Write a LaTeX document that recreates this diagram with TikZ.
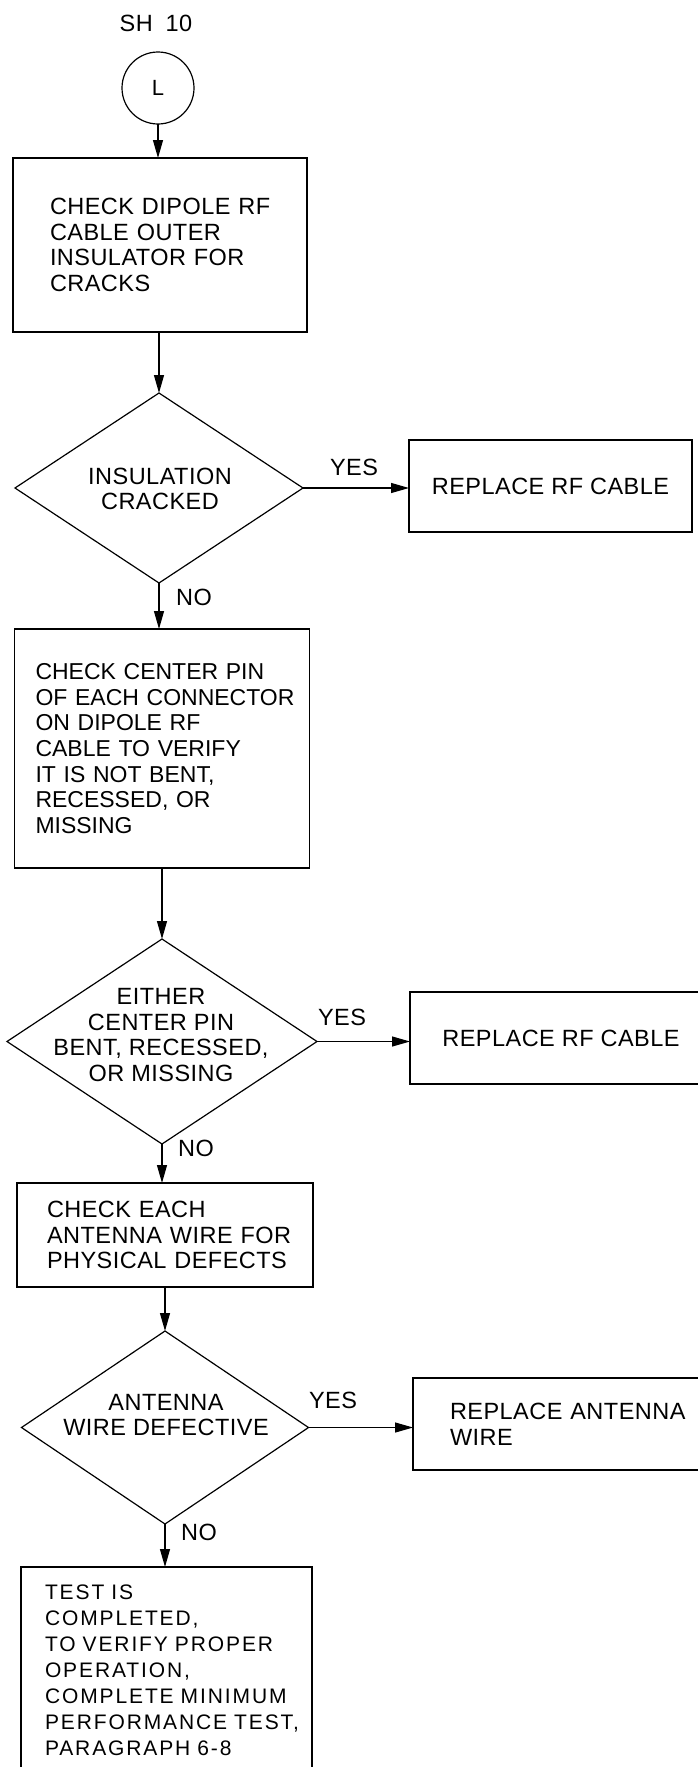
\documentclass[tikz,border=0pt]{standalone}
\usepackage{fontspec}
\setmainfont{Liberation Sans}[LetterSpace=2]
\newfontfamily\lastfont{Liberation Sans}[LetterSpace=9]
\usetikzlibrary{shapes.geometric,arrows.meta}
\begin{document}
\begin{tikzpicture}[x=1pt,y=-1pt,
  every node/.style={inner sep=0pt, outer sep=0pt},
  txt/.style={font=\fontsize{23.5}{25.7}\selectfont},
  procbox/.style={draw, line width=1.2pt, rectangle, align=left, txt},
  decbox/.style={draw, line width=1.2pt, diamond},
  dectext/.style={align=center, txt},
  lbl/.style={txt},
  flow/.style={draw, line width=1.2pt, -{Triangle[length=18pt,width=10pt]}},
]
\useasboundingbox[fill=white] (0,0) rectangle (698,1767);

\node[lbl] (sh) at (156,23) {SH\hspace{0.55em}10};
\node[draw, circle, line width=1.2pt, minimum size=72pt, font=\fontsize{22}{24}\selectfont] (conn) at (158,88) {L};

\node[procbox, minimum width=294pt, minimum height=174pt, text width=220pt, inner xsep=37pt] (box1) at (160,245)
  {\mbox{CHECK DIPOLE RF}\\\mbox{CABLE OUTER}\\\mbox{INSULATOR FOR}\\\mbox{CRACKS}};

\node[decbox, minimum width=288pt, minimum height=190pt] (d1) at (159,488) {};
\node[dectext] (d1t) at (160,489) {INSULATION\\CRACKED};

\node[procbox, minimum width=283pt, minimum height=92pt, align=center] (r1) at (550.5,486) {REPLACE RF CABLE};

\node[procbox, minimum width=295pt, minimum height=239pt, text width=253pt, inner xsep=21pt,
  font=\fontsize{23}{25.7}\selectfont\addfontfeature{LetterSpace=0}] (box2) at (162,748.5)
  {\mbox{CHECK CENTER PIN}\\\mbox{OF EACH CONNECTOR}\\\mbox{ON DIPOLE RF}\\\mbox{CABLE TO VERIFY}\\\mbox{IT IS NOT BENT,}\\\mbox{RECESSED, OR}\\\mbox{MISSING}};

\node[decbox, minimum width=310pt, minimum height=205pt] (d2) at (162,1041.5) {};
\node[dectext] (d2t) at (161,1035) {EITHER\\CENTER PIN\\BENT, RECESSED,\\OR MISSING};

\node[procbox, minimum width=302pt, minimum height=92pt, align=center] (r2) at (561,1038) {REPLACE RF CABLE};

\node[procbox, minimum width=296pt, minimum height=104pt, text width=236pt, inner xsep=30pt] (box3) at (165,1235)
  {\mbox{CHECK EACH}\\\mbox{ANTENNA WIRE FOR}\\\mbox{PHYSICAL DEFECTS}};

\node[decbox, minimum width=287pt, minimum height=193pt] (d3) at (165,1427.5) {};
\node[dectext] (d3t) at (166,1415) {ANTENNA\\WIRE DEFECTIVE};

\node[procbox, minimum width=303pt, minimum height=92pt, text width=229pt, inner xsep=37pt] (r3) at (564.5,1424) {\mbox{REPLACE ANTENNA}\\\mbox{WIRE}};

\node[draw, line width=1.2pt, rectangle, align=left, minimum width=291pt, minimum height=206pt,
  text width=243pt, inner xsep=24pt,
  font=\lastfont\fontsize{21}{26}\selectfont] (box4) at (166.5,1670)
  {\mbox{TEST IS}\\\mbox{COMPLETED,}\\\mbox{TO VERIFY PROPER}\\\mbox{OPERATION,}\\\mbox{COMPLETE MINIMUM}\\\mbox{PERFORMANCE TEST,}\\\mbox{PARAGRAPH 6-8}};

\node[lbl] (yes1) at (354,467) {YES};
\node[lbl] (no1) at (194,597) {NO};
\node[lbl] (yes2) at (342,1017) {YES};
\node[lbl] (no2) at (196,1148) {NO};
\node[lbl] (yes3) at (333,1400) {YES};
\node[lbl] (no3) at (199,1532) {NO};

\draw[flow] (conn.south) -- (conn.south |- box1.north);
\draw[flow] (box1.south -| d1.north) -- (d1.north);
\draw[flow] (d1.south) -- (d1.south |- box2.north);
\draw[flow] (box2.south -| d2.north) -- (d2.north);
\draw[flow] (d2.south) -- (d2.south |- box3.north);
\draw[flow] (box3.south -| d3.north) -- (d3.north);
\draw[flow] (d3.south) -- (d3.south |- box4.north);

\draw[flow] (d1.east) -- (d1.east -| r1.west);
\draw[flow] (d2.east) -- (d2.east -| r2.west);
\draw[flow] (d3.east) -- (d3.east -| r3.west);
\end{tikzpicture}
\end{document}
